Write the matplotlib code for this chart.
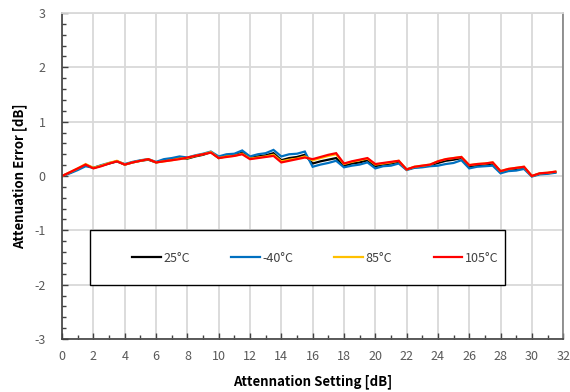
import matplotlib
matplotlib.use('Agg')
import matplotlib.pyplot as plt
from matplotlib.patches import Rectangle
from matplotlib.ticker import MultipleLocator
import numpy as np

plt.rcParams['font.family'] = ['Noto Sans CJK KR', 'DejaVu Sans']
plt.rcParams['axes.unicode_minus'] = False

# attenuation steps, 0.5 dB LSB
atten_db = np.arange(0, 32, 0.5)

err_25c = [0.00, 0.06, 0.13, 0.20, 0.15, 0.19, 0.23, 0.27,
           0.21, 0.25, 0.28, 0.30, 0.25, 0.28, 0.30, 0.33,
           0.32, 0.36, 0.39, 0.44, 0.33, 0.37, 0.38, 0.43,
           0.33, 0.36, 0.38, 0.42, 0.29, 0.33, 0.35, 0.39,
           0.23, 0.27, 0.30, 0.33, 0.19, 0.23, 0.25, 0.29,
           0.18, 0.21, 0.23, 0.26, 0.12, 0.16, 0.17, 0.20,
           0.24, 0.28, 0.30, 0.33, 0.17, 0.20, 0.21, 0.23,
           0.07, 0.11, 0.13, 0.15, 0.00, 0.04, 0.05, 0.07]

err_m40c = [0.00, 0.05, 0.11, 0.18, 0.15, 0.20, 0.24, 0.27,
            0.22, 0.26, 0.29, 0.31, 0.26, 0.31, 0.33, 0.36,
            0.34, 0.38, 0.41, 0.45, 0.36, 0.40, 0.41, 0.47,
            0.36, 0.40, 0.42, 0.48, 0.36, 0.40, 0.41, 0.45,
            0.17, 0.21, 0.24, 0.28, 0.16, 0.19, 0.21, 0.25,
            0.14, 0.18, 0.19, 0.23, 0.11, 0.15, 0.16, 0.18,
            0.19, 0.22, 0.24, 0.29, 0.14, 0.17, 0.18, 0.19,
            0.05, 0.09, 0.10, 0.13, -0.01, 0.03, 0.04, 0.06]

err_85c = [0.00, 0.07, 0.14, 0.22, 0.15, 0.19, 0.24, 0.28,
           0.21, 0.25, 0.28, 0.31, 0.25, 0.27, 0.29, 0.32,
           0.33, 0.37, 0.40, 0.44, 0.33, 0.36, 0.37, 0.41,
           0.32, 0.34, 0.36, 0.39, 0.27, 0.30, 0.32, 0.36,
           0.29, 0.33, 0.37, 0.40, 0.22, 0.26, 0.29, 0.32,
           0.21, 0.23, 0.25, 0.28, 0.12, 0.17, 0.19, 0.21,
           0.27, 0.31, 0.33, 0.35, 0.20, 0.22, 0.23, 0.25,
           0.09, 0.13, 0.15, 0.17, 0.00, 0.05, 0.06, 0.08]

err_105c = [0.00, 0.07, 0.14, 0.21, 0.14, 0.18, 0.23, 0.27,
            0.21, 0.25, 0.28, 0.31, 0.25, 0.27, 0.29, 0.31,
            0.34, 0.37, 0.40, 0.43, 0.33, 0.35, 0.37, 0.40,
            0.31, 0.33, 0.35, 0.37, 0.25, 0.28, 0.31, 0.34,
            0.31, 0.35, 0.39, 0.42, 0.23, 0.27, 0.30, 0.33,
            0.22, 0.24, 0.26, 0.28, 0.12, 0.17, 0.19, 0.21,
            0.27, 0.31, 0.33, 0.35, 0.20, 0.22, 0.23, 0.25,
            0.09, 0.13, 0.15, 0.17, 0.00, 0.05, 0.06, 0.08]

series = [
    ('25°C', err_25c, '#000000'),
    ('-40°C', err_m40c, '#0070C0'),
    ('85°C', err_85c, '#FFC000'),
    ('105°C', err_105c, '#FF0000'),
]

fig = plt.figure(figsize=(5.7, 3.92), dpi=100)
ax = fig.add_axes([0.109, 0.135, 0.879, 0.832])

for label, vals, color in series:
    ax.plot(atten_db, vals, color=color, linewidth=1.6, label=label,
            solid_joinstyle='miter')

ax.set_xlim(0, 32)
ax.set_ylim(-3, 3)
ax.xaxis.set_major_locator(MultipleLocator(2))
ax.xaxis.set_minor_locator(MultipleLocator(1))
ax.yaxis.set_major_locator(MultipleLocator(1))
ax.yaxis.set_minor_locator(MultipleLocator(0.2))

ax.grid(True, which='major', color='#d9d9d9', linewidth=1.3)
ax.set_axisbelow(True)

tick_color = '#595959'
ax.tick_params(which='both', direction='in', colors='#404040',
               labelcolor=tick_color, labelsize=9)
ax.tick_params(which='major', length=4, width=1)
ax.tick_params(which='minor', length=3, width=1)
ax.tick_params(axis='x', pad=8)
ax.tick_params(axis='y', pad=12)

for side in ('left', 'bottom'):
    ax.spines[side].set_color('#404040')
    ax.spines[side].set_linewidth(1.2)
ax.spines['top'].set_color('#d9d9d9')
ax.spines['top'].set_linewidth(1.3)
ax.spines['right'].set_color('#808080')
ax.spines['right'].set_linewidth(1.2)

ax.set_xlabel('Attennation Setting [dB]', fontsize=9.5, fontweight='bold',
              labelpad=8)
ax.set_ylabel('Attenuation Error [dB]', fontsize=9.5, fontweight='bold',
              labelpad=5)

# legend frame drawn separately so its size is fixed
ax.add_patch(Rectangle((0.056, 0.166), 0.828, 0.168, transform=ax.transAxes,
                       facecolor='white', edgecolor='black', linewidth=1.0,
                       zorder=3))
leg = ax.legend(loc='center', bbox_to_anchor=(0.505, 0.248), ncol=4,
                frameon=False, fontsize=9, handlelength=2.3,
                handletextpad=0.2, columnspacing=3.3)
leg.set_zorder(4)
for txt in leg.get_texts():
    txt.set_color('#404040')

fig.savefig('out.png', dpi=100)
